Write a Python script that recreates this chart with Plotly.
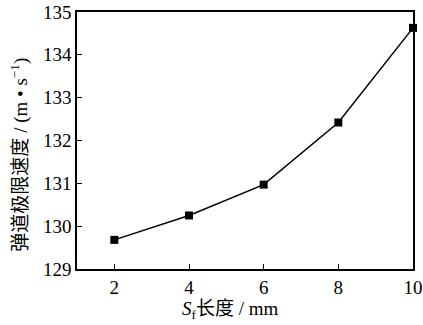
import plotly.graph_objects as go

lengths = [2, 4, 6, 8, 10]
speeds = [129.68, 130.25, 130.97, 132.42, 134.63]
x_ticks = [2, 4, 6, 8, 10]
y_ticks = [129, 130, 131, 132, 133, 134, 135]

font = "Times New Roman, Liberation Serif, serif"
cjk = "Noto Sans CJK SC"

fig = go.Figure()
fig.add_trace(go.Scatter(
    x=lengths, y=speeds, mode="lines+markers",
    line=dict(color="black", width=1.5),
    marker=dict(symbol="square", size=8, color="black"),
    cliponaxis=False,
))
fig.update_layout(
    width=423, height=325,
    margin=dict(l=77, r=10, t=12, b=56, autoexpand=False),
    plot_bgcolor="white", paper_bgcolor="white",
    showlegend=False,
    font=dict(family=font, size=19, color="black"),
)
fig.update_xaxes(
    range=[1, 10], tickvals=x_ticks, ticktext=[str(v) for v in x_ticks],
    ticks="inside", ticklen=5, tickwidth=1.2, tickcolor="black",
    showline=True, linecolor="black", linewidth=1.5, mirror=True,
    showgrid=False, zeroline=False, automargin=False,
    tickfont=dict(family=font, size=19),
)
fig.update_yaxes(
    range=[129, 135], tickvals=y_ticks, ticktext=[str(v) for v in y_ticks],
    ticks="inside", ticklen=5, tickwidth=1.2, tickcolor="black",
    showline=True, linecolor="black", linewidth=1.5, mirror=True,
    showgrid=False, zeroline=False, automargin=False,
    tickfont=dict(family=font, size=19),
)
fig.add_annotation(
    text=f"<i>S</i><sub>f</sub><span style='font-family:{cjk}'>长度</span> / mm",
    xref="paper", yref="paper", x=0.458, y=0, xanchor="center", yanchor="middle",
    yshift=-38, showarrow=False, font=dict(family=font, size=19),
)
fig.add_annotation(
    text=f"<span style='font-family:{cjk}'>弹道极限速度</span> / (m • s<sup>−1</sup>)",
    xref="paper", yref="paper", x=0, y=0.445, xanchor="center", yanchor="middle",
    xshift=-58, textangle=-90, showarrow=False, font=dict(family=font, size=19),
)
fig.write_html("out.html", config={"displayModeBar": False},
               post_script="document.body.style.margin='0';document.body.style.overflow='hidden';")
